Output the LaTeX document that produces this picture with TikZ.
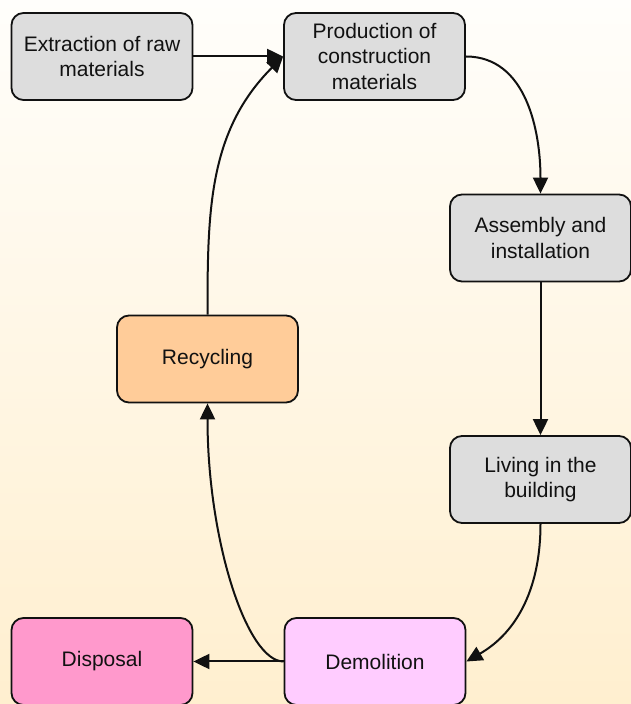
\documentclass[tikz,border=0pt]{standalone}
\usepackage{fontspec}
\setmainfont{Liberation Sans}
\usetikzlibrary{arrows.meta}
\definecolor{boxgrey}{HTML}{DDDDDD}
\definecolor{recyc}{HTML}{FFCC99}
\definecolor{dispo}{HTML}{FF99CC}
\definecolor{demol}{HTML}{FFCCFF}
\definecolor{ink}{HTML}{111111}
\definecolor{bgtop}{HTML}{FFFEFB}
\definecolor{bgbottom}{HTML}{FFEFCF}
\begin{document}
\begin{tikzpicture}[x = 1pt, y = 1pt,
		stage/.style = {draw = ink, line width = 1.8pt, rounded corners = 12pt, fill = boxgrey,
			minimum width = 181pt, minimum height = 87pt, align = center, text = ink,
			font = \fontsize{21}{25.5}\selectfont},
		flow/.style = {draw = ink, line width = 2pt, -{Triangle[length = 16pt, width = 15pt]}}]
	\shade[top color = bgtop, bottom color = bgbottom] (0,0) rectangle (631,704); %background
	\useasboundingbox (0,0) rectangle (631,704);
	\node[stage] (extract) at (102,647.5) {Extraction of raw\\materials};
	\node[stage] (produce) at (374.5,647.5) {Production of\\construction\\materials};
	\node[stage] (assemble) at (540.5,466) {Assembly and\\installation};
	\node[stage] (living) at (540.5,224.5) {Living in the\\building};
	\node[stage, fill = recyc] (recycle) at (207.5,345) {Recycling};
	\node[stage, fill = dispo] (dispose) at (102,42.5) {Disposal};
	\node[stage, fill = demol] (demolish) at (375,42.5) {Demolition};
	\draw[flow] (extract) -- (produce);
	\draw[flow] (produce.east) to[out = 0, in = 90] (assemble.north);
	\draw[flow] (assemble) -- (living);
	\draw[flow] (living.south) to[out = -90, in = 30] (demolish.east);
	\draw[flow] (demolish) -- (dispose);
	\draw[flow] (demolish.west) to[out = 180, in = -90, out looseness = .35, in looseness = 1.3] (recycle.south); %back up to recycling
	\draw[flow] (recycle.north) to[out = 90, in = 225] (produce.west);
\end{tikzpicture}
\end{document}
